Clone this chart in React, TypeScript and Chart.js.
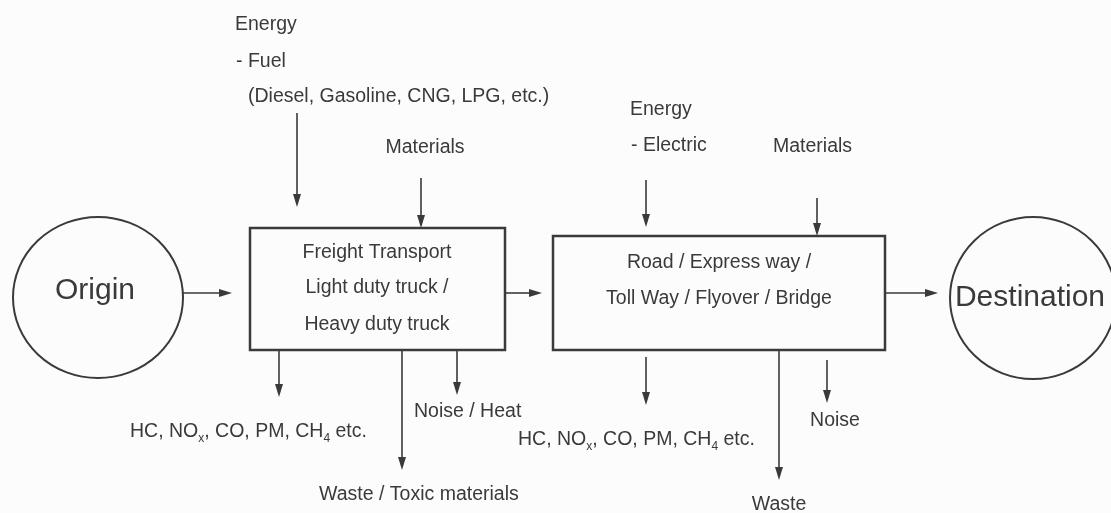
import React, { useEffect, useRef } from "react";
import { Chart, registerables } from "chart.js";

Chart.register(...registerables);

// Diagram space (x: 0..1111, y: 0..513, y downwards)
const nodeNames = ["Origin", "Destination"];
const nodeCX = [98, 1033];
const nodeCY = [297.5, 298];
const nodeRX = [85, 83];
const nodeRY = [80.5, 81];
const nodeTextX = [95, 1030];
const nodeTextY = [291, 298];

const boxLeft = [250, 553];
const boxTop = [228, 236];
const boxRight = [505, 885];
const boxBottom = [350, 350];
const boxTextX = [377, 719];
const boxLines = [
  ["Freight Transport", "Light duty truck /", "Heavy duty truck"],
  ["Road / Express way /", "Toll Way / Flyover / Bridge"],
];
const boxLineY = [
  [253, 288, 325],
  [263, 299],
];

// vertical (downward) arrows
const vArrowX = [297, 421, 646, 817, 279, 402, 457, 646, 779, 827];
const vArrowFrom = [113, 178, 180, 198, 350, 350, 350, 357, 350, 360];
const vArrowTo = [207, 228, 227, 236, 397, 470, 395, 405, 480, 403];

// horizontal (rightward) arrows
const hArrowY = [293, 293, 293];
const hArrowFrom = [183, 505, 886];
const hArrowTo = [232, 542, 938];

// free labels ("_{..}" = subscript)
const labelText = [
  "Energy",
  "- Fuel",
  "(Diesel, Gasoline, CNG, LPG, etc.)",
  "Materials",
  "Energy",
  "- Electric",
  "Materials",
  "HC, NO_{x}, CO, PM, CH_{4} etc.",
  "Noise / Heat",
  "Waste / Toxic materials",
  "HC, NO_{x}, CO, PM, CH_{4} etc.",
  "Noise",
  "Waste",
];
const labelX = [235, 236, 248, 425, 630, 631, 773, 130, 414, 319, 518, 835, 779];
const labelY = [25, 62, 97, 148, 110, 146, 147, 432, 412, 495, 440, 421, 505];
const labelAlign = [
  "left", "left", "left", "center", "left", "left", "left",
  "left", "left", "left", "left", "center", "center",
];

const INK = "#3a3a3a";
const FONT = "Liberation Sans, Arial, sans-serif";

function parseParts(s: string) {
  const parts: { t: string; sub: boolean }[] = [];
  const re = /_\{([^}]*)\}/g;
  let last = 0;
  let m: RegExpExecArray | null;
  while ((m = re.exec(s))) {
    if (m.index > last) parts.push({ t: s.slice(last, m.index), sub: false });
    parts.push({ t: m[1], sub: true });
    last = m.index + m[0].length;
  }
  if (last < s.length) parts.push({ t: s.slice(last), sub: false });
  return parts;
}

const diagramPlugin = {
  id: "diagram",
  beforeDraw(chart: any) {
    const { ctx, width, height } = chart;
    ctx.save();
    ctx.fillStyle = "#fcfcfc";
    ctx.fillRect(0, 0, width, height);
    ctx.restore();
  },
  afterDatasetsDraw(chart: any) {
    const ctx = chart.ctx;
    const xs = chart.scales.x;
    const ys = chart.scales.y;
    const px = (v: number) => xs.getPixelForValue(v);
    const py = (v: number) => ys.getPixelForValue(v);
    ctx.save();

    // circles
    ctx.strokeStyle = INK;
    ctx.lineWidth = 2;
    for (let i = 0; i < nodeNames.length; i++) {
      const cx = px(nodeCX[i]);
      const cy = py(nodeCY[i]);
      const rx = Math.abs(px(nodeCX[i] + nodeRX[i]) - cx);
      const ry = Math.abs(py(nodeCY[i] + nodeRY[i]) - cy);
      ctx.beginPath();
      ctx.ellipse(cx, cy, rx, ry, 0, 0, Math.PI * 2);
      ctx.stroke();
      ctx.fillStyle = INK;
      ctx.font = `30px ${FONT}`;
      ctx.textAlign = "center";
      ctx.textBaseline = "middle";
      ctx.fillText(nodeNames[i], px(nodeTextX[i]), py(nodeTextY[i]));
    }

    // arrow heads
    const headLen = 13;
    const headHalf = 4;
    ctx.fillStyle = INK;
    for (let i = 0; i < vArrowX.length; i++) {
      const tx = px(vArrowX[i]);
      const ty = py(vArrowTo[i]);
      ctx.beginPath();
      ctx.moveTo(tx, ty);
      ctx.lineTo(tx - headHalf, ty - headLen);
      ctx.lineTo(tx + headHalf, ty - headLen);
      ctx.closePath();
      ctx.fill();
    }
    for (let i = 0; i < hArrowY.length; i++) {
      const tx = px(hArrowTo[i]);
      const ty = py(hArrowY[i]);
      ctx.beginPath();
      ctx.moveTo(tx, ty);
      ctx.lineTo(tx - headLen, ty - headHalf);
      ctx.lineTo(tx - headLen, ty + headHalf);
      ctx.closePath();
      ctx.fill();
    }

    // box texts
    ctx.font = `19.5px ${FONT}`;
    ctx.textAlign = "center";
    ctx.textBaseline = "middle";
    for (let b = 0; b < boxLines.length; b++) {
      for (let j = 0; j < boxLines[b].length; j++) {
        ctx.fillText(boxLines[b][j], px(boxTextX[b]), py(boxLineY[b][j]));
      }
    }

    // free labels
    ctx.textBaseline = "middle";
    ctx.textAlign = "left";
    for (let i = 0; i < labelText.length; i++) {
      const parts = parseParts(labelText[i]);
      const measure = (p: { t: string; sub: boolean }) => {
        ctx.font = p.sub ? `12px ${FONT}` : `19.5px ${FONT}`;
        return ctx.measureText(p.t).width;
      };
      let total = 0;
      for (const p of parts) total += measure(p);
      let x = px(labelX[i]);
      if (labelAlign[i] === "center") x -= total / 2;
      const y = py(labelY[i]);
      for (const p of parts) {
        const w = measure(p);
        ctx.fillText(p.t, x, p.sub ? y + 7 : y);
        x += w;
      }
    }
    ctx.restore();
  },
};

export default function App() {
  const ref = useRef<HTMLCanvasElement | null>(null);
  useEffect(() => {
    if (!ref.current) return;
    const datasets: any[] = [];
    for (let i = 0; i < vArrowX.length; i++) {
      datasets.push({
        data: [
          { x: vArrowX[i], y: vArrowFrom[i] },
          { x: vArrowX[i], y: vArrowTo[i] - 6 },
        ],
        showLine: true,
        borderColor: INK,
        borderWidth: 1.6,
        pointRadius: 0,
        clip: false,
      });
    }
    for (let i = 0; i < hArrowY.length; i++) {
      datasets.push({
        data: [
          { x: hArrowFrom[i], y: hArrowY[i] },
          { x: hArrowTo[i] - 6, y: hArrowY[i] },
        ],
        showLine: true,
        borderColor: INK,
        borderWidth: 1.6,
        pointRadius: 0,
        clip: false,
      });
    }
    for (let b = 0; b < boxLeft.length; b++) {
      datasets.push({
        data: [
          { x: boxLeft[b], y: boxTop[b] },
          { x: boxRight[b], y: boxTop[b] },
          { x: boxRight[b], y: boxBottom[b] },
          { x: boxLeft[b], y: boxBottom[b] },
          { x: boxLeft[b], y: boxTop[b] },
        ],
        showLine: true,
        borderColor: INK,
        borderWidth: 2.5,
        borderJoinStyle: "miter",
        borderCapStyle: "square",
        pointRadius: 0,
        clip: false,
      });
    }
    const chart = new Chart(ref.current, {
      type: "scatter",
      data: { datasets },
      options: {
        animation: false,
        responsive: true,
        maintainAspectRatio: false,
        events: [],
        layout: { padding: 0 },
        plugins: { legend: { display: false }, tooltip: { enabled: false } },
        scales: {
          x: { type: "linear", min: 0, max: 1111, display: false },
          y: { type: "linear", min: 0, max: 513, reverse: true, display: false },
        },
      },
      plugins: [diagramPlugin],
    });
    return () => chart.destroy();
  }, []);
  return (
    <div style={{ position: "absolute", left: 0, top: 0, width: 1111, height: 513 }}>
      <canvas ref={ref} />
    </div>
  );
}
